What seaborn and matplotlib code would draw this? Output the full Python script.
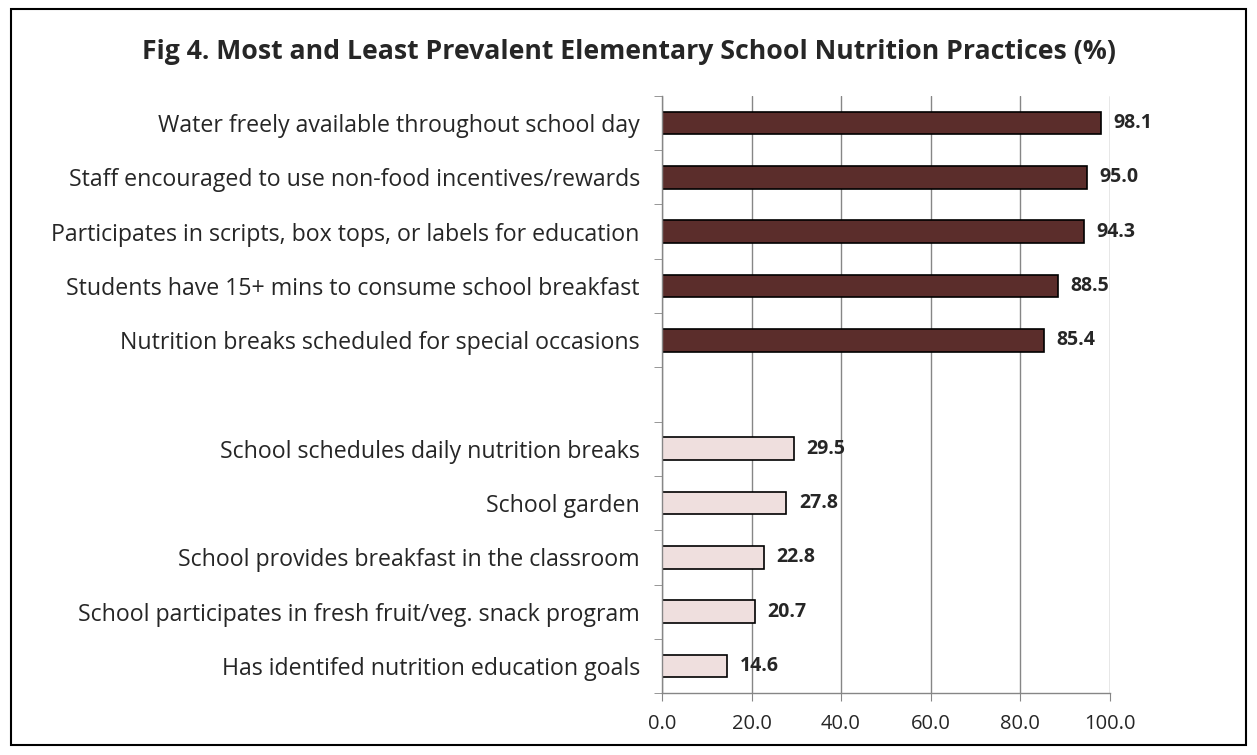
import matplotlib
matplotlib.use("Agg")
import matplotlib.pyplot as plt
import matplotlib.patches as mpatches
import seaborn as sns
import pandas as pd
import numpy as np

categories = [
    "Water freely available throughout school day",
    "Staff encouraged to use non-food incentives/rewards",
    "Participates in scripts, box tops, or labels for education",
    "Students have 15+ mins to consume school breakfast",
    "Nutrition breaks scheduled for special occasions",
    " ",
    "School schedules daily nutrition breaks",
    "School garden",
    "School provides breakfast in the classroom",
    "School participates in fresh fruit/veg. snack program",
    "Has identifed nutrition education goals",
]
values = [98.1, 95.0, 94.3, 88.5, 85.4, np.nan, 29.5, 27.8, 22.8, 20.7, 14.6]
groups = ["most"] * 5 + ["gap"] + ["least"] * 5
colors = {"most": "#632523", "least": "#F2DCDB", "gap": "#FFFFFF"}
x_ticks = [0, 20, 40, 60, 80, 100]

sns.set_style("white")
plt.rcParams["font.family"] = ["Open Sans", "DejaVu Sans"]

df = pd.DataFrame({"label": categories, "value": values, "group": groups})

fig = plt.figure(figsize=(12.57, 7.55), dpi=100)
ax = fig.add_axes([0.5267, 0.082, 0.356, 0.791])

sns.barplot(data=df, x="value", y="label", hue="group", palette=colors,
            order=categories, dodge=False, legend=False, width=0.42,
            edgecolor="black", linewidth=1.2, ax=ax)

for i, v in enumerate(values):
    if not np.isnan(v):
        ax.annotate(f"{v:.1f}", (v, i), xytext=(9, 0), textcoords="offset points",
                    va="center", ha="left", fontsize=14, fontweight="bold")

ax.set_xlim(0, 100)
ax.set_ylim(len(categories) - 0.5, -0.5)
ax.set_xticks(x_ticks)
ax.set_xticklabels([f"{t:.1f}" for t in x_ticks], fontsize=14.5)
ax.set_xlabel("")
ax.set_ylabel("")
ax.tick_params(axis="y", length=0, labelsize=16.7, pad=16)
ax.set_yticks(np.arange(-0.5, len(categories)), minor=True)
ax.tick_params(axis="y", which="minor", length=6, color="#868686", direction="out", left=True)
ax.tick_params(axis="x", length=6, color="#868686", direction="out", bottom=True, pad=9)
ax.xaxis.grid(True, color="#868686", linewidth=1)
ax.set_axisbelow(True)
for s in ["top", "right"]:
    ax.spines[s].set_visible(False)
for s in ["left", "bottom"]:
    ax.spines[s].set_color("#868686")
    ax.spines[s].set_linewidth(1)

fig.text(0.50, 0.931, "Fig 4. Most and Least Prevalent Elementary School Nutrition Practices (%)",
         ha="center", va="center", fontsize=19.2, fontweight="bold")

fig.patches.append(mpatches.Rectangle((0.009, 0.013), 0.982, 0.975, transform=fig.transFigure,
                                      fill=False, edgecolor="black", linewidth=1.5))

fig.savefig("out.png", dpi=100)
